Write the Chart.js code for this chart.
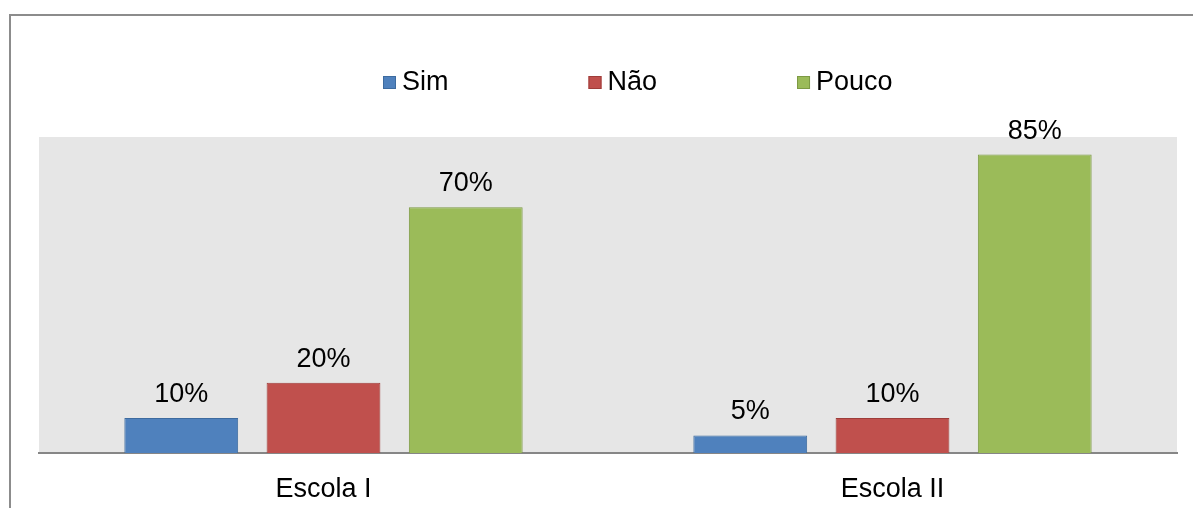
<!DOCTYPE html>
<html lang="pt">
<head>
<meta charset="UTF-8">
<script src="https://cdn.jsdelivr.net/npm/chart.js"></script>
<title>Escolas</title>
<style>
  body { margin: 0; width: 1193px; height: 508px; overflow: hidden; background: #fff; position: relative; }
  #moldura { position: absolute; left: 9px; top: 14px; width: 1300px; height: 600px; border: 2px solid #8c8c8c; }
  #grafico { position: absolute; left: 0; top: 0; }
</style>
</head>
<body>
<div id="moldura"></div>
<canvas id="grafico" width="1193" height="508"></canvas>
<script>
const escolas = ["Escola I", "Escola II"];
const series = ["Sim", "Não", "Pouco"];
const sim = [10, 5];
const nao = [20, 10];
const pouco = [70, 85];
const escalaMax = 90;

const cores = ["#4f81bd", "#c0504d", "#9bbb59"];
const bordas = ["#3d6b9f", "#9e3d3a", "#7d9a44"];
const familia = "'Liberation Sans', Arial, sans-serif";
const fonte = "27px " + familia;

// fundo cinza da area do grafico
const fundo = {
  id: 'fundo',
  beforeDraw(chart) {
    const a = chart.chartArea;
    const c = chart.ctx;
    c.save();
    c.fillStyle = '#e6e6e6';
    c.fillRect(a.left, a.top, a.right - a.left, a.bottom - a.top);
    c.restore();
  }
};

// rotulos de valor acima das barras
const rotulos = {
  id: 'rotulos',
  afterDatasetsDraw(chart) {
    const c = chart.ctx;
    c.save();
    c.font = fonte;
    c.fillStyle = '#000';
    c.textAlign = 'center';
    c.textBaseline = 'alphabetic';
    chart.data.datasets.forEach((ds, i) => {
      chart.getDatasetMeta(i).data.forEach((bar, j) => {
        c.fillText(ds.data[j] + '%', bar.x, bar.y - 16);
      });
    });
    c.restore();
  }
};

// legenda no estilo do excel
const legenda = {
  id: 'legenda',
  afterDraw(chart) {
    const c = chart.ctx;
    c.save();
    c.font = fonte;
    c.textBaseline = 'alphabetic';
    let x = 383;
    chart.data.datasets.forEach((ds, i) => {
      c.fillStyle = ds.backgroundColor;
      c.fillRect(x, 76, 13, 13);
      c.strokeStyle = ds.borderColor;
      c.lineWidth = 1;
      c.strokeRect(x + 0.5, 76.5, 12, 12);
      c.fillStyle = '#000';
      c.fillText(ds.label, x + 19, 90);
      x += 19 + c.measureText(ds.label).width + 140;
    });
    c.restore();
  }
};

const valores = [sim, nao, pouco];
const ctx = document.getElementById('grafico');
new Chart(ctx, {
  type: 'bar',
  data: {
    labels: escolas,
    datasets: series.map((s, i) => ({
      label: s,
      data: valores[i],
      backgroundColor: cores[i],
      borderColor: bordas[i],
      borderWidth: 1,
      barPercentage: 0.8,
      categoryPercentage: 0.75
    }))
  },
  options: {
    responsive: false,
    animation: false,
    layout: { padding: { left: 39, right: 16, top: 137, bottom: 0 } },
    plugins: {
      legend: { display: false },
      tooltip: { enabled: false }
    },
    scales: {
      x: {
        grid: { display: false, drawTicks: false },
        border: { color: '#868686', width: 2 },
        ticks: { color: '#000', font: { family: familia, size: 27 }, padding: 20 },
        afterFit(scale) { scale.height = 55; }
      },
      y: {
        display: false,
        min: 0,
        max: escalaMax
      }
    }
  },
  plugins: [fundo, rotulos, legenda]
});
</script>
</body>
</html>
